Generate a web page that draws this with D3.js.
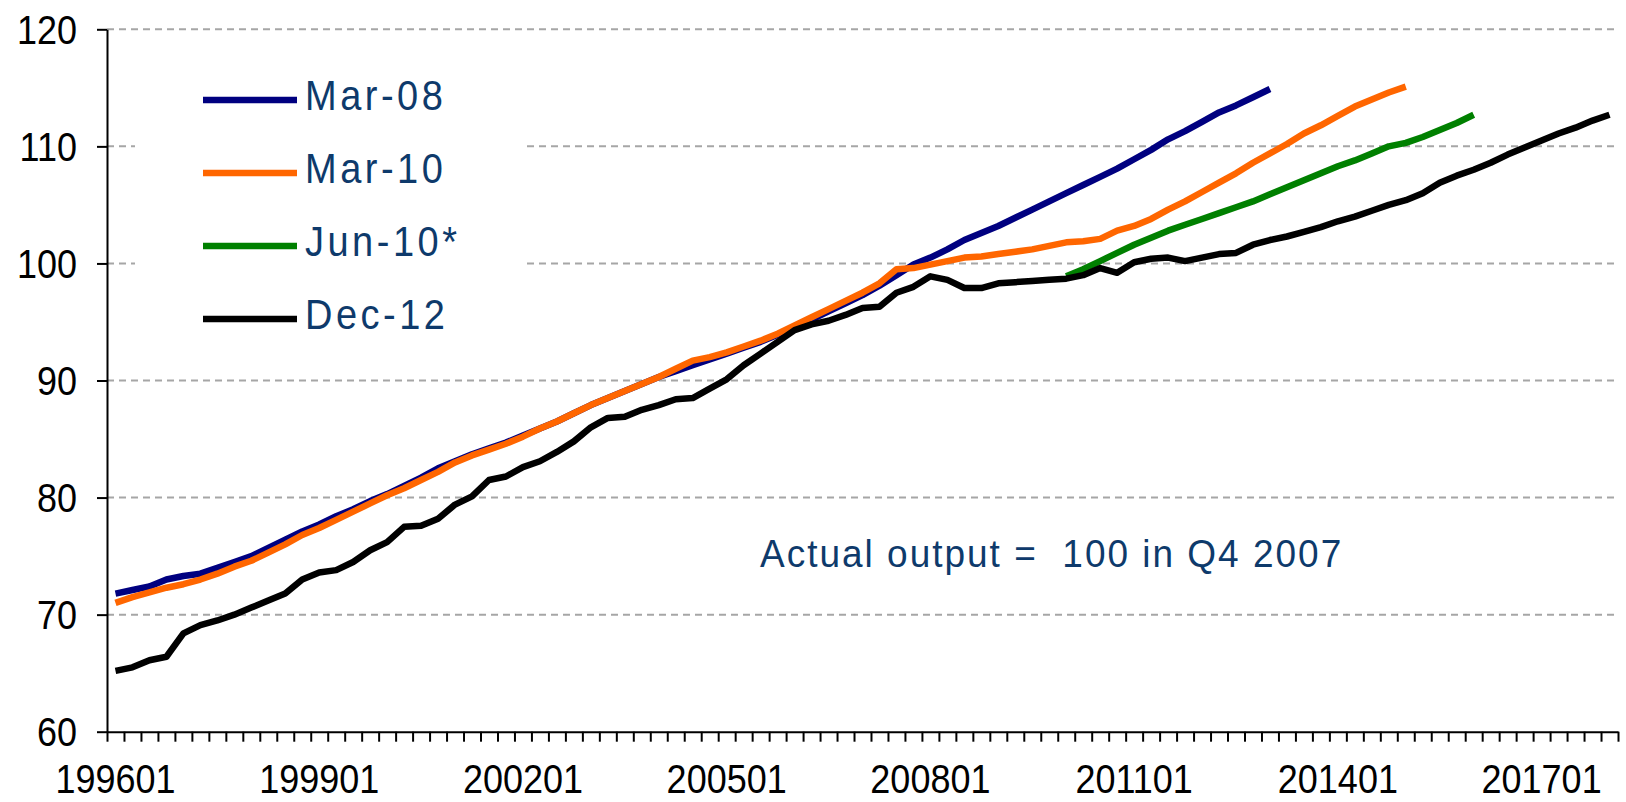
<!DOCTYPE html>
<html>
<head>
<meta charset="utf-8">
<script src="https://cdn.jsdelivr.net/npm/d3@7"></script>
<style>
  html, body { margin: 0; padding: 0; background: #fff; }
  svg { display: block; font-family: "Liberation Sans", Arial, sans-serif; }
</style>
</head>
<body>
<svg id="chartArea" width="1626" height="802"></svg>
<script>

/* data */

// quarters 199601 .. 201801
let startYear = 1996;
let quarterCount = 89;

let tickLabels = ["199601", "199901", "200201", "200501", "200801", "201101", "201401", "201701"];
let yTicks = [60, 70, 80, 90, 100, 110, 120];

let seriesNames = ["Mar-08", "Mar-10", "Jun-10*", "Dec-12"];
let seriesColors = ["#000080", "#ff6600", "#008000", "#000000"];
let seriesStarts = ["199601", "199601", "201001", "199601"];

let mar08Values = [
  71.8, 72.1, 72.4, 73.0, 73.3, 73.5, 74.0, 74.5, 75.0, 75.7,
  76.4, 77.1, 77.7, 78.4, 79.0, 79.7, 80.3, 81.0, 81.7, 82.5,
  83.1, 83.7, 84.2, 84.7, 85.3, 85.9, 86.5, 87.2, 87.9, 88.5,
  89.1, 89.7, 90.3, 90.8, 91.3, 91.8, 92.3, 92.8, 93.3, 93.9,
  94.5, 95.2, 95.9, 96.6, 97.3, 98.1, 99.0, 99.9, 100.5, 101.2,
  102.0, 102.6, 103.2, 103.9, 104.6, 105.3, 106.0, 106.7, 107.4, 108.1,
  108.9, 109.7, 110.6, 111.3, 112.1, 112.9, 113.5, 114.2, 114.9
];

let mar10Values = [
  71.0, 71.5, 71.9, 72.3, 72.6, 73.0, 73.5, 74.1, 74.6, 75.3,
  76.0, 76.8, 77.4, 78.1, 78.8, 79.5, 80.2, 80.8, 81.5, 82.2,
  83.0, 83.6, 84.1, 84.6, 85.2, 85.9, 86.5, 87.2, 87.9, 88.5,
  89.1, 89.7, 90.3, 91.0, 91.7, 92.0, 92.4, 92.9, 93.4, 94.0,
  94.7, 95.4, 96.1, 96.8, 97.5, 98.3, 99.5, 99.6, 99.9, 100.2,
  100.5, 100.6, 100.8, 101.0, 101.2, 101.5, 101.8, 101.9, 102.1, 102.8,
  103.2, 103.8, 104.6, 105.3, 106.1, 106.9, 107.7, 108.6, 109.4, 110.2,
  111.1, 111.8, 112.6, 113.4, 114.0, 114.6, 115.1
];

let jun10Values = [
  98.9, 99.5, 100.2, 100.9, 101.6, 102.2, 102.8, 103.3, 103.8, 104.3,
  104.8, 105.3, 105.9, 106.5, 107.1, 107.7, 108.3, 108.8, 109.4, 110.0,
  110.3, 110.8, 111.4, 112.0, 112.7
];

let dec12Values = [
  65.2, 65.5, 66.1, 66.4, 68.4, 69.1, 69.5, 70.0, 70.6, 71.2,
  71.8, 73.0, 73.6, 73.8, 74.5, 75.5, 76.2, 77.5, 77.6, 78.2,
  79.4, 80.1, 81.5, 81.8, 82.6, 83.1, 83.9, 84.8, 86.0, 86.8,
  86.9, 87.5, 87.9, 88.4, 88.5, 89.3, 90.1, 91.3, 92.3, 93.3,
  94.3, 94.8, 95.1, 95.6, 96.2, 96.3, 97.5, 98.0, 98.9, 98.6,
  97.9, 97.9, 98.3, 98.4, 98.5, 98.6, 98.7, 99.0, 99.6, 99.2,
  100.1, 100.4, 100.5, 100.2, 100.5, 100.8, 100.9, 101.6, 102.0, 102.3,
  102.7, 103.1, 103.6, 104.0, 104.5, 105.0, 105.4, 106.0, 106.9, 107.5,
  108.0, 108.6, 109.3, 109.9, 110.5, 111.1, 111.6, 112.2, 112.7
];

let noteText = "Actual output =  100 in Q4 2007";


/* categories (YYYY0Q) */
let categories = [];
for (let yr = startYear; categories.length < quarterCount; yr++) {
  for (let q = 1; q <= 4 && categories.length < quarterCount; q++) {
    categories.push(`${yr}0${q}`);
  }
}

let allValues = [mar08Values, mar10Values, jun10Values, dec12Values];
let series = seriesNames.map((name, k) => {
  let offset = categories.indexOf(seriesStarts[k]);
  return {
    name: name,
    color: seriesColors[k],
    points: allValues[k].map((v, i) => ({ cat: categories[offset + i], value: v }))
  };
});


/* layout */
let svg = d3.select("#chartArea");
let plotLeft = 107, plotRight = 1618, plotTop = 29.3, plotBottom = 731.7;
let textBlue = "#0e3a6b";
let stretchY = 1.12;    // the source text is a little taller than Arial

let x = d3.scaleBand().domain(categories).range([plotLeft, plotRight]).padding(0);
let xEdge = d3.scaleLinear().domain([0, quarterCount]).range([plotLeft, plotRight]);
let y = d3.scaleLinear().domain([60, 120]).range([plotBottom, plotTop]);
let cx = c => x(c) + x.bandwidth() / 2;

// text placed with a vertical stretch
let placeAt = (px, py, sy) => `translate(${px},${py}) scale(1,${sy})`;


/* grid lines */
svg.append("g")
  .attr("class", "grid")
  .selectAll("line")
  .data(yTicks.filter(t => t > 60))
  .enter()
  .append("line")
  .attr("x1", plotLeft)
  .attr("x2", plotRight)
  .attr("y1", d => y(d))
  .attr("y2", d => y(d))
  .attr("stroke", "#a6a6a6")
  .attr("stroke-width", 2)
  .attr("stroke-dasharray", "7,5");

// legend background hides the grid
svg.append("rect")
  .attr("x", 135)
  .attr("y", 45)
  .attr("width", 387)
  .attr("height", 305)
  .attr("fill", "#fff");


/* axes */
let yAxis = svg.append("g")
  .attr("transform", `translate(${plotLeft},0)`)
  .call(d3.axisLeft(y).tickValues(yTicks).tickSize(10).tickSizeOuter(0).tickFormat(""));

let xAxis = svg.append("g")
  .attr("transform", `translate(0,${plotBottom})`)
  .call(d3.axisBottom(xEdge).tickValues(d3.range(quarterCount + 1)).tickSize(10).tickSizeOuter(0).tickFormat(""));

[yAxis, xAxis].forEach(g => {
  g.select(".domain").attr("stroke", "#000").attr("stroke-width", 2);
  g.selectAll(".tick line").attr("stroke", "#000").attr("stroke-width", 2);
});

// y tick labels
svg.append("g")
  .selectAll("text")
  .data(yTicks)
  .enter()
  .append("text")
  .text(d => d)
  .attr("transform", d => placeAt(77, y(d) + 14.5, stretchY))
  .attr("text-anchor", "end")
  .attr("font-size", "36px")
  .attr("fill", "#000");

// x tick labels
svg.append("g")
  .selectAll("text")
  .data(tickLabels)
  .enter()
  .append("text")
  .text(d => d)
  .attr("transform", d => placeAt(cx(d), 793, stretchY))
  .attr("text-anchor", "middle")
  .attr("font-size", "36px")
  .attr("fill", "#000");


/* series lines */
let line = d3.line()
  .x(d => cx(d.cat))
  .y(d => y(d.value));

svg.append("g")
  .selectAll("path")
  .data(series)
  .enter()
  .append("path")
  .attr("d", d => line(d.points))
  .attr("fill", "none")
  .attr("stroke", d => d.color)
  .attr("stroke-width", 6.5)
  .attr("stroke-linejoin", "round");


/* legend */
let lg = svg.append("g").attr("class", "legend");
let legendTop = 100;
let legendStep = 73;

lg.selectAll("line")
  .data(series)
  .enter()
  .append("line")
  .attr("x1", 203)
  .attr("x2", 297)
  .attr("y1", (d, i) => legendTop + legendStep * i)
  .attr("y2", (d, i) => legendTop + legendStep * i)
  .attr("stroke", d => d.color)
  .attr("stroke-width", 6.5);

lg.selectAll("text")
  .data(series)
  .enter()
  .append("text")
  .text(d => d.name)
  .attr("transform", (d, i) => placeAt(305, legendTop + legendStep * i + 10, 1.14))
  .attr("font-size", "38px")
  .attr("letter-spacing", "3.5px")
  .attr("fill", textBlue);


/* note */
svg.append("text")
  .text(noteText)
  .attr("transform", placeAt(760, 567, 1.06))
  .attr("font-size", "37px")
  .attr("letter-spacing", "2px")
  .style("white-space", "pre")
  .attr("fill", textBlue);

</script>
</body>
</html>
